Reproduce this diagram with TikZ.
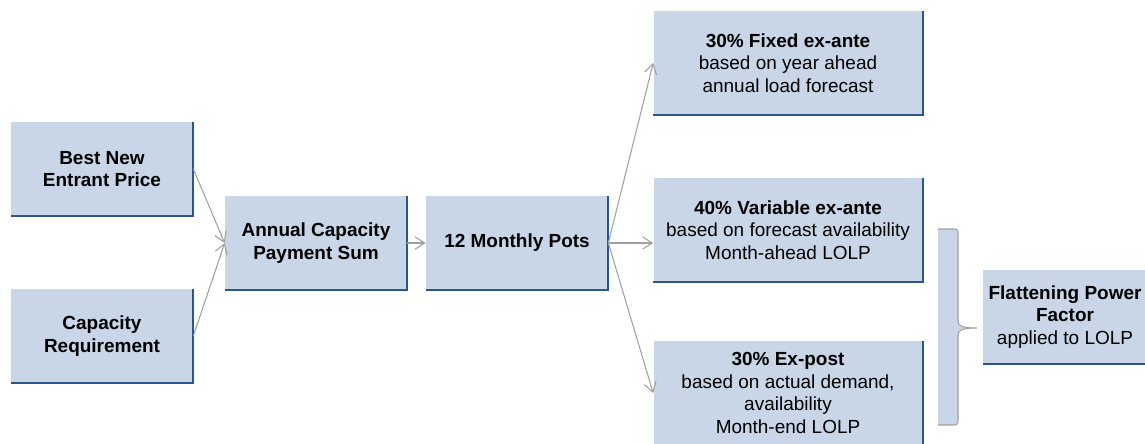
\documentclass[tikz,border=0pt]{standalone}
\usepackage{fontspec}
\setmainfont{Liberation Sans}
\usetikzlibrary{arrows.meta}

\definecolor{panefill}{RGB}{201,214,232}
\definecolor{paneline}{RGB}{46,84,140}
\definecolor{linkgray}{RGB}{160,160,160}

\tikzset{
    pane/.style={fill=panefill, inner sep=0pt, align=center,
        font=\fontsize{10.8}{12.8}\selectfont},
    smallpane/.style={pane, minimum width=3.64cm, minimum height=1.87cm,
        font=\fontsize{10.8}{12.8}\selectfont\bfseries},
    widepane/.style={pane, minimum width=5.38cm, minimum height=2.08cm},
    paneedge/.style={paneline, line width=1.1pt},
    link/.style={linkgray, line width=0.6pt,
        -{Straight Barb[length=5.5pt,width=7pt]}},
}

\begin{document}
\begin{tikzpicture}[x=0.02cm, y=-0.02cm]
        \useasboundingbox (0,0) rectangle (1145,443);

        % Input panes
        \node [smallpane] (bnep) at (102,169) {Best New\\Entrant Price};
        \node [smallpane] (capreq) at (102,336) {Capacity\\Requirement};

        % Sum and pots
        \node [smallpane] (acps) at (316,243) {Annual Capacity\\Payment Sum};
        \node [smallpane] (pots) at (517,243) {12 Monthly Pots};

        % Payment shares
        \node [widepane] (fixed) at (788,63) {\textbf{30\% Fixed ex-ante}\\
            based on year ahead\\annual load forecast};
        \node [widepane] (variable) at (788,230) {\textbf{40\% Variable ex-ante}\\
            based on forecast availability\\Month-ahead LOLP};
        \node [widepane] (expost) at (788,393) {\textbf{30\% Ex-post}\\
            based on actual demand,\\availability\\Month-end LOLP};

        % Flattening factor
        \node [pane, minimum width=3.28cm, minimum height=1.88cm] (flat)
            at (1065,317) {\textbf{Flattening Power}\\\textbf{Factor}\\
            applied to LOLP};

        % Pane shadow edges
        \foreach \pane in {bnep,capreq,acps,pots,fixed,variable,expost,flat}
            \draw [paneedge] (\pane.north east) -- (\pane.south east)
                -- (\pane.south west);

        % Links
        \draw [link] (bnep.east) -- (acps.west);
        \draw [link] (capreq.east) -- (acps.west);
        \draw [link] (acps.east) -- (pots.west);
        \draw [link] (pots.east) -- (fixed.west);
        \draw [link] (pots.east) -- (pots.east -| variable.west);
        \draw [link] (pots.east) -- (expost.west);

        % Brace
        \coordinate (bracetop) at (938,229);
        \coordinate (bracetip) at (977,328);
        \coordinate (bracebot) at (938,425);
        \fill [panefill] (bracetop) -- (954,229)
            .. controls (958,229) and (958,231) .. (958,235) -- (958,321)
            .. controls (958,326) and (962,328) .. (bracetip)
            .. controls (962,328) and (958,330) .. (958,335) -- (958,419)
            .. controls (958,423) and (958,425) .. (954,425) -- (bracebot)
            -- cycle;
        \draw [linkgray, line width=0.6pt] (bracetop) -- (954,229)
            .. controls (958,229) and (958,231) .. (958,235) -- (958,321)
            .. controls (958,326) and (962,328) .. (bracetip)
            .. controls (962,328) and (958,330) .. (958,335) -- (958,419)
            .. controls (958,423) and (958,425) .. (954,425) -- (bracebot);
\end{tikzpicture}
\end{document}
